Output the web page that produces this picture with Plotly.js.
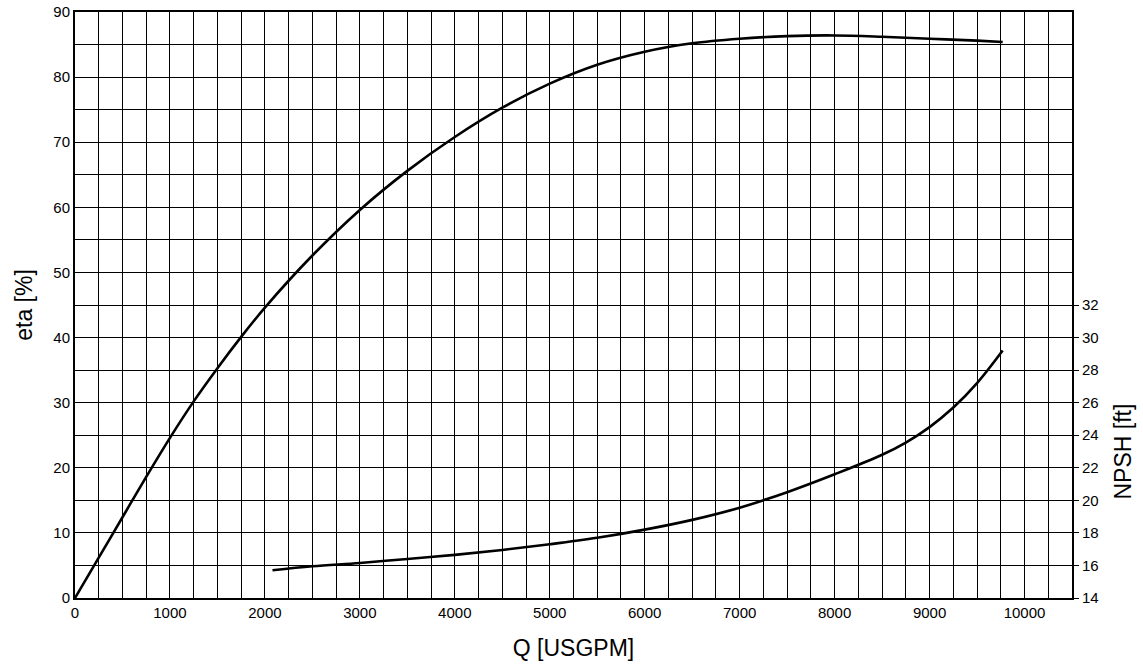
<!DOCTYPE html>
<html>
<head>
<meta charset="utf-8">
<script src="https://cdn.plot.ly/plotly-3.0.1.min.js"></script>
<style>
  html, body { margin: 0; padding: 0; background: #fff; }
  #chart { width: 1143px; height: 665px; }
</style>
</head>
<body>
<div id="chart"></div>
<script>
// Pump efficiency curve: flow Q [USGPM] vs eta [%]
const etaFlow = [0, 250, 500, 750, 1000, 1250, 1500, 1750, 2000, 2500, 3000, 3500, 4000, 4500, 5000, 5500, 6000, 6500, 7000, 7500, 8000, 8500, 9000, 9500, 9770];
const etaValues = [0, 6.2, 12.4, 18.6, 24.6, 30.2, 35.3, 40.1, 44.6, 52.6, 59.6, 65.6, 70.8, 75.3, 79.0, 81.9, 83.9, 85.2, 85.9, 86.3, 86.4, 86.2, 85.9, 85.6, 85.4];

// Required NPSH curve: flow Q [USGPM] vs NPSH [ft]
const npshFlow = [2080, 2500, 3000, 3500, 4000, 4500, 5000, 5500, 6000, 6500, 7000, 7500, 8000, 8500, 8750, 9000, 9250, 9500, 9770];
const npshValues = [15.7, 15.95, 16.15, 16.4, 16.65, 16.95, 17.3, 17.7, 18.2, 18.8, 19.55, 20.5, 21.6, 22.8, 23.55, 24.5, 25.7, 27.2, 29.2];

// Axis ticks
const qTicks = [0, 1000, 2000, 3000, 4000, 5000, 6000, 7000, 8000, 9000, 10000];
const etaTicks = [0, 10, 20, 30, 40, 50, 60, 70, 80, 90];
const npshTicks = [14, 16, 18, 20, 22, 24, 26, 28, 30, 32];

const font = 'Liberation Sans, Arial, sans-serif';
const gridColor = '#000';

const curveLine = { color: '#000', width: 2.6, shape: 'spline', smoothing: 1 };

const traces = [
  { x: etaFlow, y: etaValues, type: 'scatter', mode: 'lines', line: curveLine, yaxis: 'y' },
  { x: npshFlow, y: npshValues, type: 'scatter', mode: 'lines', line: curveLine, yaxis: 'y2' }
];

const layout = {
  width: 1143, height: 665,
  margin: { l: 75, r: 71, t: 12, b: 67 },
  paper_bgcolor: '#fff', plot_bgcolor: '#fff',
  showlegend: false,
  font: { family: font, color: '#000', size: 15 },
  xaxis: {
    range: [0, 10500],
    tickvals: qTicks, ticktext: qTicks.map(String),
    ticks: '',
    showgrid: true, gridcolor: gridColor, gridwidth: 1,
    minor: { dtick: 250, tick0: 0, showgrid: true, gridcolor: gridColor, gridwidth: 1 },
    zeroline: false,
    showline: true, linecolor: '#000', linewidth: 2, mirror: true,
    tickfont: { size: 15 },
    title: { text: 'Q [USGPM]', font: { size: 23 }, standoff: 20 }
  },
  yaxis: {
    range: [0, 90],
    tickvals: etaTicks, ticktext: etaTicks.map(String),
    ticks: '',
    showgrid: true, gridcolor: gridColor, gridwidth: 1,
    minor: { dtick: 5, tick0: 0, showgrid: true, gridcolor: gridColor, gridwidth: 1 },
    zeroline: false,
    showline: true, linecolor: '#000', linewidth: 2, mirror: true,
    tickfont: { size: 15 },
    title: { text: 'eta [%]', font: { size: 23 }, standoff: 14 }
  },
  yaxis2: {
    overlaying: 'y', side: 'right',
    range: [14, 50],
    tickvals: npshTicks, ticktext: npshTicks.map(String),
    ticks: 'outside', ticklen: 6, tickwidth: 1, tickcolor: '#000',
    showgrid: false, zeroline: false, showline: false,
    tickfont: { size: 15 }
  },
  annotations: [{
    text: 'NPSH [ft]', textangle: -90,
    xref: 'paper', yref: 'y2', x: 1, y: 23,
    xanchor: 'center', yanchor: 'middle', xshift: 50,
    showarrow: false, font: { size: 23 }
  }]
};

Plotly.newPlot('chart', traces, layout, { displayModeBar: false, staticPlot: true });
</script>
</body>
</html>
